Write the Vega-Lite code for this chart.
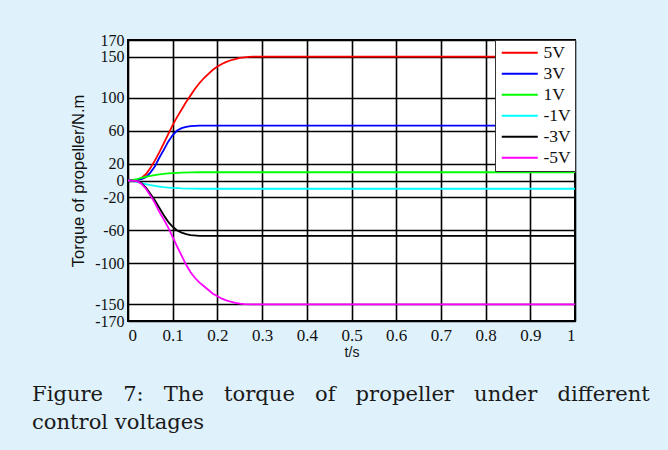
{
  "$schema": "https://vega.github.io/schema/vega-lite/v6.json",
  "width": 447,
  "height": 281,
  "autosize": {"type": "none"},
  "padding": {"left": 128, "top": 40, "right": 93, "bottom": 129},
  "background": "#dff1fb",
  "title": {
    "text": ["Figure\u00a0\u00a0 7:\u00a0\u00a0 The\u00a0\u00a0 torque\u00a0\u00a0 of\u00a0\u00a0 propeller\u00a0\u00a0 under\u00a0\u00a0 different", "control voltages"],
    "orient": "bottom",
    "anchor": "start",
    "frame": "group",
    "dx": -96,
    "offset": 25,
    "font": "DejaVu Serif",
    "fontSize": 21.1,
    "fontWeight": "normal",
    "lineHeight": 28,
    "color": "#1a1a1a"
  },
  "data": {
    "values": [
      {"t": 0, "v": 0, "s": "5V"}, {"t": 0.01, "v": 0.2, "s": "5V"}, {"t": 0.02, "v": 0.8, "s": "5V"}, {"t": 0.03, "v": 3, "s": "5V"}, {"t": 0.04, "v": 7.5, "s": "5V"}, {"t": 0.05, "v": 15, "s": "5V"}, {"t": 0.06, "v": 24, "s": "5V"}, {"t": 0.07, "v": 34, "s": "5V"}, {"t": 0.08, "v": 45, "s": "5V"}, {"t": 0.09, "v": 56, "s": "5V"}, {"t": 0.10, "v": 67, "s": "5V"}, {"t": 0.11, "v": 77, "s": "5V"}, {"t": 0.12, "v": 86, "s": "5V"}, {"t": 0.13, "v": 95, "s": "5V"}, {"t": 0.14, "v": 103, "s": "5V"}, {"t": 0.15, "v": 111, "s": "5V"}, {"t": 0.16, "v": 118, "s": "5V"}, {"t": 0.17, "v": 124, "s": "5V"}, {"t": 0.18, "v": 129, "s": "5V"}, {"t": 0.19, "v": 134, "s": "5V"}, {"t": 0.20, "v": 138, "s": "5V"}, {"t": 0.21, "v": 141, "s": "5V"}, {"t": 0.22, "v": 143.5, "s": "5V"}, {"t": 0.23, "v": 145.5, "s": "5V"}, {"t": 0.24, "v": 147, "s": "5V"}, {"t": 0.25, "v": 148.3, "s": "5V"}, {"t": 0.26, "v": 149.1, "s": "5V"}, {"t": 0.27, "v": 149.6, "s": "5V"}, {"t": 0.28, "v": 149.9, "s": "5V"}, {"t": 0.30, "v": 150, "s": "5V"}, {"t": 1, "v": 150, "s": "5V"},
      {"t": 0, "v": 0, "s": "3V"}, {"t": 0.01, "v": 0.2, "s": "3V"}, {"t": 0.02, "v": 0.7, "s": "3V"}, {"t": 0.03, "v": 1.6, "s": "3V"}, {"t": 0.04, "v": 4, "s": "3V"}, {"t": 0.05, "v": 9.5, "s": "3V"}, {"t": 0.06, "v": 17, "s": "3V"}, {"t": 0.07, "v": 27.5, "s": "3V"}, {"t": 0.08, "v": 37, "s": "3V"}, {"t": 0.09, "v": 47, "s": "3V"}, {"t": 0.10, "v": 55, "s": "3V"}, {"t": 0.11, "v": 60.5, "s": "3V"}, {"t": 0.12, "v": 63.3, "s": "3V"}, {"t": 0.13, "v": 65, "s": "3V"}, {"t": 0.14, "v": 65.8, "s": "3V"}, {"t": 0.16, "v": 66.5, "s": "3V"}, {"t": 1, "v": 66.5, "s": "3V"},
      {"t": 0, "v": 0, "s": "1V"}, {"t": 0.01, "v": 0.6, "s": "1V"}, {"t": 0.02, "v": 1.8, "s": "1V"}, {"t": 0.03, "v": 3.2, "s": "1V"}, {"t": 0.04, "v": 4.5, "s": "1V"}, {"t": 0.05, "v": 5.6, "s": "1V"}, {"t": 0.06, "v": 6.5, "s": "1V"}, {"t": 0.07, "v": 7.3, "s": "1V"}, {"t": 0.08, "v": 8, "s": "1V"}, {"t": 0.09, "v": 8.5, "s": "1V"}, {"t": 0.10, "v": 9, "s": "1V"}, {"t": 0.12, "v": 9.6, "s": "1V"}, {"t": 0.14, "v": 9.9, "s": "1V"}, {"t": 0.16, "v": 10, "s": "1V"}, {"t": 1, "v": 10, "s": "1V"},
      {"t": 0, "v": 0, "s": "-1V"}, {"t": 0.01, "v": -0.6, "s": "-1V"}, {"t": 0.02, "v": -1.8, "s": "-1V"}, {"t": 0.03, "v": -3.2, "s": "-1V"}, {"t": 0.04, "v": -4.5, "s": "-1V"}, {"t": 0.05, "v": -5.6, "s": "-1V"}, {"t": 0.06, "v": -6.5, "s": "-1V"}, {"t": 0.07, "v": -7.3, "s": "-1V"}, {"t": 0.08, "v": -8, "s": "-1V"}, {"t": 0.09, "v": -8.5, "s": "-1V"}, {"t": 0.10, "v": -9, "s": "-1V"}, {"t": 0.12, "v": -9.6, "s": "-1V"}, {"t": 0.14, "v": -9.9, "s": "-1V"}, {"t": 0.16, "v": -10, "s": "-1V"}, {"t": 1, "v": -10, "s": "-1V"},
      {"t": 0, "v": 0, "s": "-3V"}, {"t": 0.01, "v": -0.2, "s": "-3V"}, {"t": 0.02, "v": -0.7, "s": "-3V"}, {"t": 0.03, "v": -3, "s": "-3V"}, {"t": 0.04, "v": -8.5, "s": "-3V"}, {"t": 0.05, "v": -16, "s": "-3V"}, {"t": 0.06, "v": -24, "s": "-3V"}, {"t": 0.07, "v": -33, "s": "-3V"}, {"t": 0.08, "v": -42, "s": "-3V"}, {"t": 0.09, "v": -50, "s": "-3V"}, {"t": 0.10, "v": -56, "s": "-3V"}, {"t": 0.11, "v": -60.5, "s": "-3V"}, {"t": 0.12, "v": -63, "s": "-3V"}, {"t": 0.13, "v": -64.8, "s": "-3V"}, {"t": 0.14, "v": -66, "s": "-3V"}, {"t": 0.16, "v": -67, "s": "-3V"}, {"t": 1, "v": -67, "s": "-3V"},
      {"t": 0, "v": 0, "s": "-5V"}, {"t": 0.01, "v": -0.2, "s": "-5V"}, {"t": 0.02, "v": -0.8, "s": "-5V"}, {"t": 0.03, "v": -4, "s": "-5V"}, {"t": 0.04, "v": -10, "s": "-5V"}, {"t": 0.05, "v": -18, "s": "-5V"}, {"t": 0.06, "v": -27, "s": "-5V"}, {"t": 0.07, "v": -38, "s": "-5V"}, {"t": 0.08, "v": -47, "s": "-5V"}, {"t": 0.09, "v": -57, "s": "-5V"}, {"t": 0.10, "v": -68.5, "s": "-5V"}, {"t": 0.11, "v": -80, "s": "-5V"}, {"t": 0.12, "v": -91, "s": "-5V"}, {"t": 0.13, "v": -102, "s": "-5V"}, {"t": 0.14, "v": -111, "s": "-5V"}, {"t": 0.15, "v": -118, "s": "-5V"}, {"t": 0.16, "v": -123.5, "s": "-5V"}, {"t": 0.17, "v": -128, "s": "-5V"}, {"t": 0.18, "v": -132.5, "s": "-5V"}, {"t": 0.19, "v": -137, "s": "-5V"}, {"t": 0.20, "v": -140, "s": "-5V"}, {"t": 0.21, "v": -143, "s": "-5V"}, {"t": 0.22, "v": -145, "s": "-5V"}, {"t": 0.23, "v": -146.7, "s": "-5V"}, {"t": 0.24, "v": -148, "s": "-5V"}, {"t": 0.25, "v": -149, "s": "-5V"}, {"t": 0.26, "v": -149.6, "s": "-5V"}, {"t": 0.28, "v": -150, "s": "-5V"}, {"t": 1, "v": -150, "s": "-5V"}
    ]
  },
  "mark": {"type": "line", "strokeWidth": 1.8, "clip": true},
  "encoding": {
    "x": {
      "field": "t",
      "type": "quantitative",
      "scale": {"domain": [0, 1], "nice": false, "zero": false},
      "axis": {
        "values": [0, 0.1, 0.2, 0.3, 0.4, 0.5, 0.6, 0.7, 0.8, 0.9, 1],
        "labelExpr": "datum.value + ''",
        "title": "t/s",
        "titlePadding": 2
      }
    },
    "y": {
      "field": "v",
      "type": "quantitative",
      "scale": {"domain": [-170, 170], "nice": false, "zero": false},
      "axis": {
        "values": [170, 150, 100, 60, 20, 0, -20, -60, -100, -150, -170],
        "labelExpr": "datum.value + ''",
        "title": "Torque of propeller/N.m",
        "titlePadding": 8,
        "labelPadding": 4,
        "labelFontSize": 16
      }
    },
    "color": {
      "field": "s",
      "type": "nominal",
      "sort": ["5V", "3V", "1V", "-1V", "-3V", "-5V"],
      "scale": {
        "domain": ["5V", "3V", "1V", "-1V", "-3V", "-5V"],
        "range": ["#ff0000", "#0000ff", "#00ff00", "#00ffff", "#000000", "#ff00ff"]
      },
      "legend": {
        "title": null,
        "orient": "top-right",
        "offset": 0,
        "fillColor": "#ffffff",
        "strokeColor": "#333333",
        "padding": 4,
        "symbolType": "M-1,0H5",
        "symbolSize": 144,
        "symbolStrokeWidth": 2,
        "labelOffset": 27,
        "labelFont": "Liberation Serif",
        "labelFontSize": 17.5,
        "labelColor": "#111111",
        "rowPadding": 2
      }
    }
  },
  "config": {
    "view": {"stroke": "#000000", "strokeWidth": 2, "fill": "#ffffff"},
    "axis": {
      "grid": true,
      "gridColor": "#000000",
      "gridWidth": 1.6,
      "gridOpacity": 1,
      "domain": false,
      "ticks": false,
      "labelOverlap": false,
      "labelFont": "Liberation Serif",
      "labelFontSize": 17,
      "labelColor": "#111111",
      "labelPadding": 6,
      "titleFont": "Liberation Sans",
      "titleFontWeight": "normal",
      "titleFontSize": 15,
      "titleColor": "#111111"
    },
    "axisY": {"titleFontSize": 16.5},
    "axisX": {"titleFontSize": 14}
  }
}
